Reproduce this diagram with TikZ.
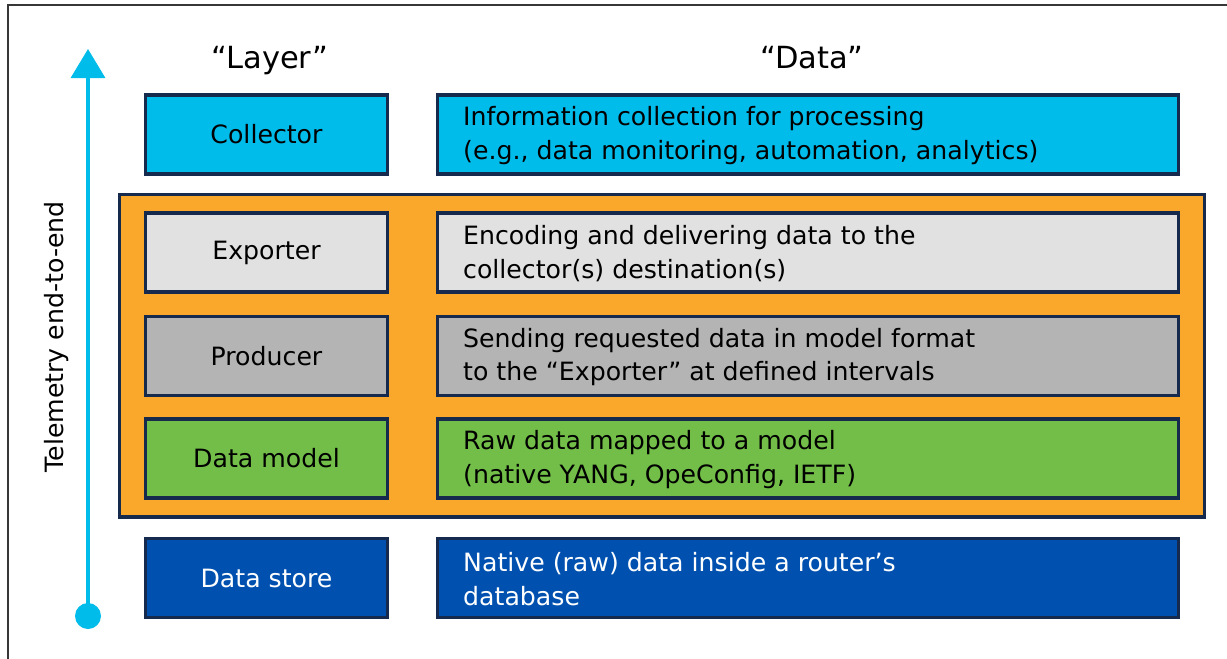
\documentclass[tikz,border=0pt]{standalone}
\usepackage{fontspec}
\setmainfont{DejaVu Sans}
\usetikzlibrary{arrows.meta}

\definecolor{navy}{RGB}{22,42,78}
\definecolor{skyc}{RGB}{0,188,235}
\definecolor{lightg}{RGB}{225,225,225}
\definecolor{midg}{RGB}{180,180,180}
\definecolor{leaf}{RGB}{114,190,72}
\definecolor{royal}{RGB}{0,81,175}
\definecolor{amber}{RGB}{249,168,43}
\definecolor{framec}{RGB}{55,55,55}

\tikzset{
  body/.style={font=\fontsize{25.2}{33.5}\selectfont},
  layerbox/.style={draw=navy, line width=3.5pt, minimum width=242pt, minimum height=79pt,
                   inner sep=0pt, body},
  databox/.style={draw=navy, line width=3.5pt, minimum width=741pt, minimum height=79pt,
                  inner sep=0pt},
  desc/.style={anchor=west, align=left, inner sep=0pt, body},
  header/.style={anchor=base, inner sep=0pt, font=\fontsize{30.5}{36}\selectfont},
}

\begin{document}
\begin{tikzpicture}[x=1pt, y=-1pt]
\useasboundingbox (0,0) rectangle (1227,659);

% frame (top and left edges)
\draw[framec, line width=2.5pt] (8,659) -- (8,5) -- (1227,5);

% column headers
\node[header] (hlayer) at (270,68.5) {“Layer”};
\node[header] (hdata) at (812,68.5) {“Data”};

% device-side group
\node[draw=navy, fill=amber, line width=3.5pt, minimum width=1085pt, minimum height=322.5pt,
      inner sep=0pt] (device) at (662,355.75) {};

% collector row
\node[layerbox, fill=skyc] (collector) at (266.5,134.5) {Collector};
\node[databox, fill=skyc] (dcollector) at (808,134.5) {};
\node[desc] (tcollector) at (463,135.5) {Information collection for processing\\(e.g., data monitoring, automation, analytics)};

% exporter row
\node[layerbox, fill=lightg] (exporter) at (266.5,252.5) {Exporter};
\node[databox, fill=lightg] (dexporter) at (808,252.5) {};
\node[desc] (texporter) at (463,253.5) {Encoding and delivering data to the\\collector(s) destination(s)};

% producer row
\node[layerbox, fill=midg] (producer) at (266.5,356) {Producer};
\node[databox, fill=midg] (dproducer) at (808,356) {};
\node[desc] (tproducer) at (463,357) {Sending requested data in model format\\to the “Exporter” at defined intervals};

% data model row
\node[layerbox, fill=leaf] (model) at (266.5,458.5) {Data model};
\node[databox, fill=leaf] (dmodel) at (808,458.5) {};
\node[desc] (tmodel) at (463,459.5) {Raw data mapped to a model\\(native YANG, OpeConfig, IETF)};

% data store row
\node[layerbox, fill=royal, text=white] (store) at (266.5,578) {Data store};
\node[databox, fill=royal] (dstore) at (808,578) {};
\node[desc, text=white] (tstore) at (463,579) {Native (raw) data inside a router’s\\database};

% end-to-end axis
\node[circle, fill=skyc, minimum size=26pt, inner sep=0pt] (origin) at (88,616) {};
\coordinate (peak) at (88,49);
\draw[skyc, line width=3.5pt, -{Triangle[width=34pt,length=29pt]}] (origin.center) -- (peak);
\node[body, rotate=90] (tele) at (57,337) {Telemetry end-to-end};
\end{tikzpicture}
\end{document}
